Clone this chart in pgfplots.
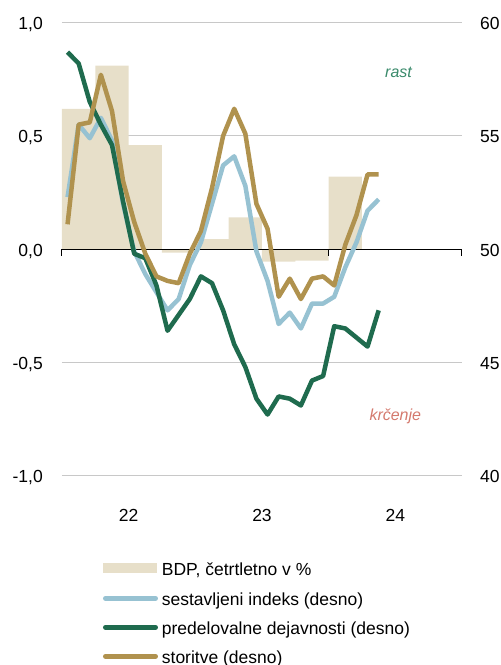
\documentclass[border=0pt]{standalone}
\usepackage{pgfplots}
\usepackage{pgfplotstable}
\pgfplotsset{compat=1.18}
\usepackage{fontspec}
\setmainfont{Liberation Sans}
\definecolor{bdp}{HTML}{E7DFC9}
\definecolor{comp}{HTML}{97C2D2}
\definecolor{manu}{HTML}{1F6B4E}
\definecolor{serv}{HTML}{B0924E}
\definecolor{gridc}{HTML}{C8C8C8}
\definecolor{rastc}{HTML}{3A8A6B}
\definecolor{krc}{HTML}{D4796D}

\pgfplotstableread{
x comp manu serv
0.5 52.3 58.7 51.1
1.5 55.5 58.2 55.5
2.5 54.9 56.5 55.6
3.5 55.8 55.5 57.7
4.5 54.8 54.6 56.1
5.5 52.0 52.1 53.0
6.5 49.9 49.8 51.2
7.5 48.9 49.6 49.8
8.5 48.1 48.4 48.8
9.5 47.3 46.4 48.6
10.5 47.8 47.1 48.5
11.5 49.3 47.8 49.8
12.5 50.3 48.8 50.8
13.5 52.0 48.5 52.7
14.5 53.7 47.3 55.0
15.5 54.1 45.8 56.2
16.5 52.8 44.8 55.1
17.5 49.9 43.4 52.0
18.5 48.6 42.7 50.9
19.5 46.7 43.5 47.9
20.5 47.2 43.4 48.7
21.5 46.5 43.1 47.8
22.5 47.6 44.2 48.7
23.5 47.6 44.4 48.8
24.5 47.9 46.6 48.4
25.5 49.2 46.5 50.2
26.5 50.3 46.1 51.5
27.5 51.7 45.7 53.3
28.5 52.2 47.3 53.3
}\pmi

\pgfplotstableread{
x gdp
1.5 0.62
4.5 0.81
7.5 0.46
10.5 -0.015
13.5 0.045
16.5 0.14
19.5 -0.055
22.5 -0.05
25.5 0.32
}\gdp

\begin{document}
\begin{tikzpicture}[font=\fontsize{17.5}{21}\selectfont]
\path[use as bounding box] (-62pt,-189.3pt) rectangle (439pt,475.7pt);
\begin{axis}[
  at={(0,0)}, anchor=south west,
  scale only axis, width=400pt, height=453pt,
  xmin=0, xmax=36, ymin=-1, ymax=1, clip=false,
  axis lines*=left, axis line style={draw=none},
  major tick length=0pt,
  xtick={6,18,30}, xticklabels={22,23,24},
  xticklabel style={anchor=north, inner sep=0pt, yshift=-33pt},
  ytick={-1,-0.5,0,0.5,1},
  yticklabel={\pgfmathprintnumber[fixed,fixed zerofill,precision=1,use comma,assume math mode=true]{\tick}},
  yticklabel style={anchor=base east, inner sep=0pt, xshift=-19pt, yshift=-7pt},
  ymajorgrids, grid style={gridc, line width=1pt},
]
\addplot[ybar, bar width=3, bar shift=0pt, fill=bdp, draw=none] table[x=x,y=gdp]{\gdp};
\draw[black, line width=1pt] (axis cs:0,0) -- (axis cs:36,0);
\pgfplotsinvokeforeach{0,12,24,36}{\draw[black, line width=1pt] (axis cs:#1,0) -- ([yshift=-6.5pt]axis cs:#1,0);}
\end{axis}
\begin{axis}[
  at={(0,0)}, anchor=south west,
  scale only axis, width=400pt, height=453pt,
  xmin=0, xmax=36, ymin=40, ymax=60,
  axis x line=none, axis y line*=right, axis line style={draw=none},
  major tick length=0pt,
  ytick={40,45,50,55,60},
  yticklabel={\pgfmathprintnumber[assume math mode=true]{\tick}},
  yticklabel style={anchor=base west, inner sep=0pt, xshift=18pt, yshift=-7pt},
]
\addplot[comp, line width=4.5pt, line join=round] table[x=x,y=comp]{\pmi};
\addplot[manu, line width=4.5pt, line join=round] table[x=x,y=manu]{\pmi};
\addplot[serv, line width=4.5pt, line join=round] table[x=x,y=serv]{\pmi};
\end{axis}
\node[anchor=base west, inner sep=0pt, text=rastc, font=\fontsize{16}{19}\selectfont\itshape] at (323pt,398.4pt) {rast};
\node[anchor=base west, inner sep=0pt, text=krc, font=\fontsize{16}{19}\selectfont\itshape] at (307.3pt,55.7pt) {krčenje};
\fill[bdp] (41pt,-97.3pt) rectangle (94.7pt,-87.3pt);
\node[anchor=base west, inner sep=0pt] at (99.7pt,-100pt) {BDP, četrtletno v \%};
\draw[comp, line width=5pt, line cap=round] (43.5pt,-122.6pt) -- (93.5pt,-122.6pt);
\node[anchor=base west, inner sep=0pt] at (99.7pt,-129.3pt) {sestavljeni indeks (desno)};
\draw[manu, line width=5pt, line cap=round] (43.5pt,-151.6pt) -- (93.5pt,-151.6pt);
\node[anchor=base west, inner sep=0pt] at (99.7pt,-158.3pt) {predelovalne dejavnosti (desno)};
\draw[serv, line width=5pt, line cap=round] (43.5pt,-180.6pt) -- (93.5pt,-180.6pt);
\node[anchor=base west, inner sep=0pt] at (99.7pt,-187.3pt) {storitve (desno)};
\end{tikzpicture}
\end{document}
